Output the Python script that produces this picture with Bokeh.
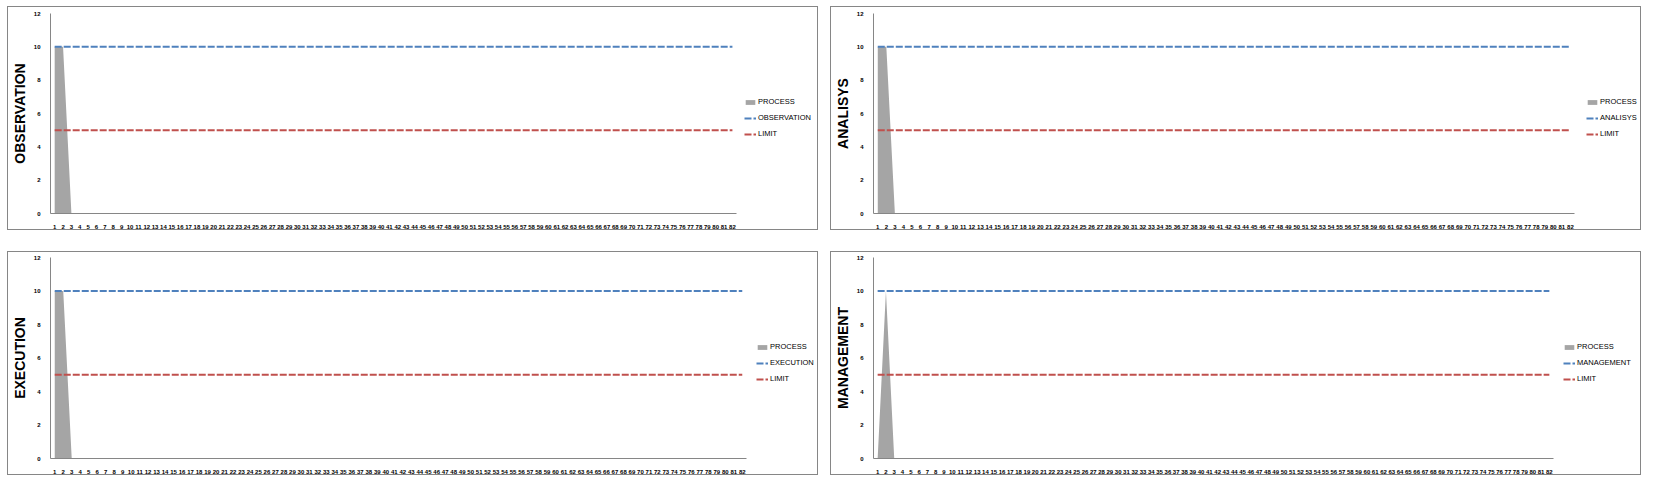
from bokeh.plotting import figure
from bokeh.models import Range1d, FixedTicker, Legend, LegendItem
from bokeh.layouts import row, column
from bokeh.embed import file_html
from bokeh.resources import INLINE

# ---------------- data ----------------
categories = list(range(1, 83))
y_ticks = [0, 2, 4, 6, 8, 10, 12]

process_observation = [10, 10, 0] + [0] * 79
process_analisys = [10, 10, 0] + [0] * 79
process_execution = [10, 10, 0] + [0] * 79
process_management = [0, 10, 0] + [0] * 79

target_values = [10] * 82
limit_values = [5] * 82

panel_names = ["OBSERVATION", "ANALISYS", "EXECUTION", "MANAGEMENT"]
process_series = [process_observation, process_analisys, process_execution, process_management]
process_label = "PROCESS"
limit_label = "LIMIT"

# ---------------- style ----------------
GRAY = "#A5A5A5"
BLUE = "#4F81BD"
RED = "#C0504D"
AXIS = "#868686"
FONT = "Liberation Sans"

W, H = 811, 224

# frame_left, data-area width, frame_top, legend gap (from data-area right)
layout_cfg = [
    (41, 687, 6, 7),
    (40, 703, 4, 10),
    (42, 696, 5, 10),
    (42, 680, 5, 10),
]

x_lo, x_hi = 0.5, 82.5


def make_panel(name, process, cfg):
    frame_left, data_width, top, legend_gap = cfg
    frame_h = 202
    right_pad = 2
    frame_w = W - frame_left - right_pad
    ppu = data_width / (x_hi - x_lo)
    x_end = x_lo + frame_w / ppu
    p = figure(width=W, height=H, output_backend="svg", toolbar_location=None,
               x_range=Range1d(x_lo, x_end), y_range=Range1d(0, 12),
               min_border_left=frame_left, min_border_right=right_pad,
               min_border_top=top, min_border_bottom=H - top - frame_h)
    p.styles = {"border": "1px solid #868686"}
    p.outline_line_color = None
    p.grid.visible = False

    r_area = p.varea(x=categories, y1=0, y2=process, fill_color=GRAY, fill_alpha=1.0)
    r_target = p.line(x=categories, y=target_values, line_color=BLUE, line_width=2,
                      line_dash="7 2")
    r_limit = p.line(x=categories, y=limit_values, line_color=RED, line_width=2,
                     line_dash="7 2")

    for ax in (p.xaxis[0], p.yaxis[0]):
        ax.axis_line_color = AXIS
        ax.major_tick_line_color = None
        ax.minor_tick_line_color = None
        ax.major_label_text_font = FONT
        ax.major_label_text_font_size = "6px"
        ax.major_label_text_font_style = "bold"
        ax.major_label_text_color = "#000000"

    p.xaxis.ticker = FixedTicker(ticks=categories)
    p.xaxis.bounds = (x_lo, x_hi)
    p.xaxis.major_label_standoff = 5
    p.yaxis.ticker = FixedTicker(ticks=y_ticks)
    p.yaxis.major_label_standoff = 4
    p.yaxis.axis_label = name
    p.yaxis.axis_label_text_font = FONT
    p.yaxis.axis_label_text_font_size = "14px"
    p.yaxis.axis_label_text_font_style = "bold"
    p.yaxis.axis_label_text_color = "#000000"
    p.yaxis.axis_label_standoff = 3

    legend = Legend(items=[
        LegendItem(label=process_label, renderers=[r_area]),
        LegendItem(label=name, renderers=[r_target]),
        LegendItem(label=limit_label, renderers=[r_limit]),
    ], location=(data_width + legend_gap, 74))
    legend.padding = 0
    legend.margin = 0
    legend.border_line_color = None
    legend.background_fill_alpha = 0
    legend.label_text_font = FONT
    legend.label_text_font_size = "7.5px"
    legend.label_text_color = "#000000"
    legend.label_height = 11
    legend.glyph_height = 6
    legend.glyph_width = 12
    legend.label_standoff = 2
    legend.spacing = 5
    p.add_layout(legend, "center")
    return p


panels = [make_panel(n, s, c) for n, s, c in zip(panel_names, process_series, layout_cfg)]

layout = column(
    row(panels[0], panels[1], spacing=12),
    row(panels[2], panels[3], spacing=12),
    spacing=21,
)
layout.margin = (6, 0, 0, 7)

open("out.html", "w").write(file_html(layout, INLINE))
